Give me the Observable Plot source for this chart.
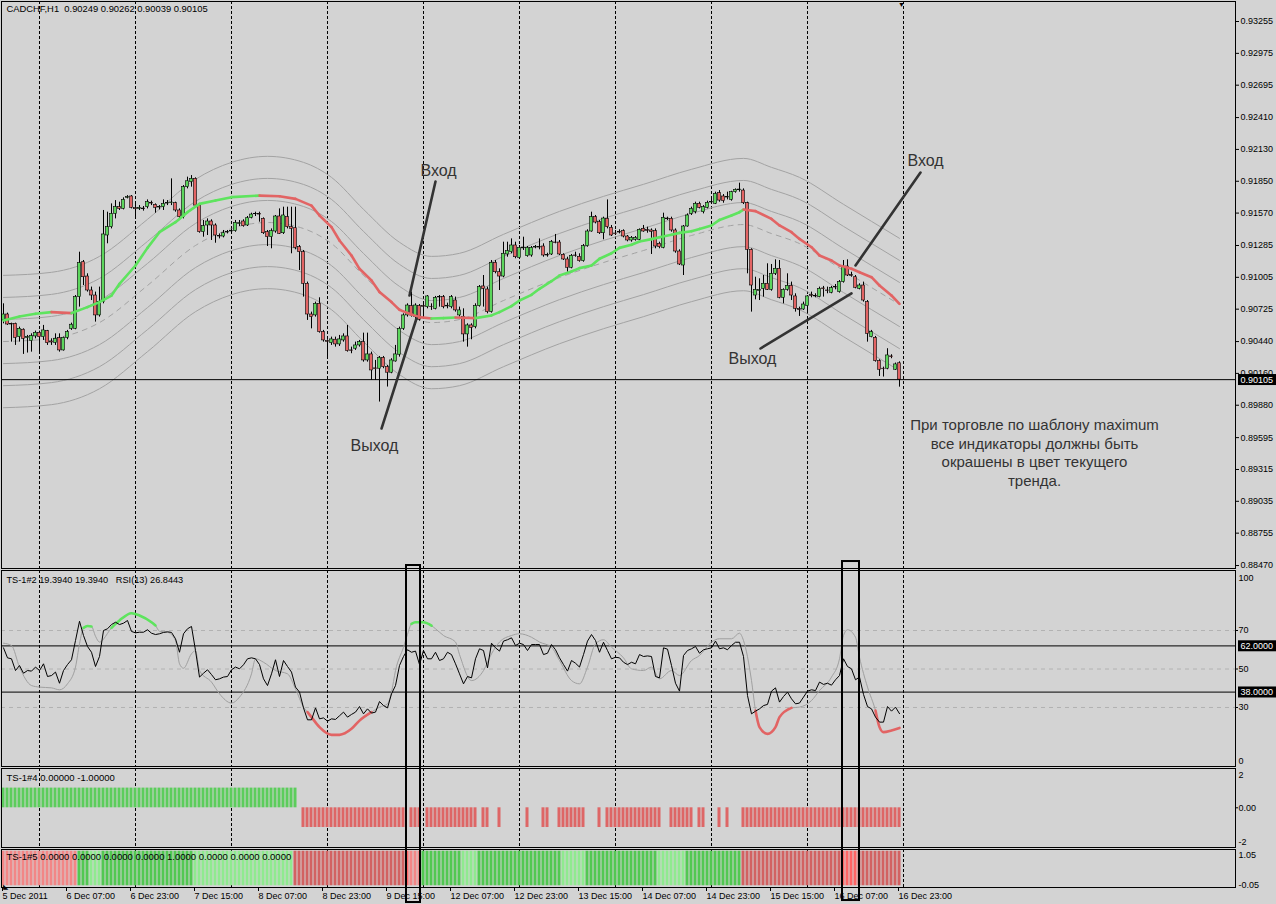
<!DOCTYPE html>
<html><head><meta charset="utf-8">
<script src="https://cdn.jsdelivr.net/npm/d3@7"></script>
<script src="https://cdn.jsdelivr.net/npm/@observablehq/plot@0.6"></script>
<style>
html,body{margin:0;padding:0;background:#d3d3d3;}
#chart{position:relative;width:1276px;height:904px;background:#d3d3d3;overflow:hidden;}
#chart svg{position:absolute;left:0;overflow:visible;}
</style></head><body><div id="chart"></div>
<script>
// ---------- DATA (CADCHF H1) ----------
const openP = [0.90626,0.90678,0.90596,0.90596,0.90479,0.90544,0.90470,0.90444,0.90485,0.90517,
0.90479,0.90532,0.90441,0.90429,0.90470,0.90362,0.90473,0.90552,0.90552,0.90831,
0.91138,0.91012,0.90889,0.90845,0.90670,0.90787,0.91373,0.91446,0.91563,0.91622,
0.91607,0.91704,0.91716,0.91613,0.91607,0.91610,0.91622,0.91660,0.91642,0.91619,
0.91622,0.91654,0.91657,0.91657,0.91593,0.91534,0.91798,0.91842,0.91871,0.91636,
0.91402,0.91461,0.91496,0.91461,0.91370,0.91364,0.91399,0.91408,0.91411,0.91475,
0.91496,0.91461,0.91528,0.91560,0.91563,0.91519,0.91402,0.91358,0.91408,0.91540,
0.91393,0.91534,0.91446,0.91437,0.91270,0.91226,0.90948,0.90678,0.90670,0.90772,
0.90523,0.90444,0.90426,0.90456,0.90415,0.90450,0.90485,0.90362,0.90377,0.90406,
0.90435,0.90274,0.90327,0.90204,0.90201,0.90297,0.90215,0.90166,0.90265,0.90324,
0.90552,0.90670,0.90752,0.90655,0.90752,0.90752,0.90743,0.90746,0.90728,0.90831,
0.90831,0.90755,0.90743,0.90801,0.90670,0.90655,0.90503,0.90582,0.90567,0.90752,
0.90925,0.90898,0.90699,0.91133,0.91050,0.91012,0.91206,0.91226,0.91285,0.91176,
0.91261,0.91191,0.91197,0.91267,0.91270,0.91276,0.91200,0.91206,0.91311,0.91311,
0.91203,0.91162,0.91089,0.91197,0.91185,0.91147,0.91279,0.91408,0.91534,0.91490,
0.91393,0.91519,0.91440,0.91390,0.91405,0.91411,0.91364,0.91329,0.91335,0.91335,
0.91431,0.91420,0.91417,0.91411,0.91300,0.91264,0.91522,0.91519,0.91417,0.91232,
0.91109,0.91452,0.91563,0.91578,0.91651,0.91578,0.91616,0.91663,0.91651,0.91745,
0.91716,0.91707,0.91686,0.91754,0.91771,0.91768,0.91657,0.91247,0.90845,0.90886,
0.90904,0.90948,0.90895,0.91036,0.91080,0.90825,0.90895,0.90930,0.90837,0.90725,
0.90722,0.90752,0.90848,0.90842,0.90831,0.90907,0.90889,0.90869,0.90919,0.90875,
0.90963,0.91100,0.91024,0.91006,0.90904,0.90933,0.90787,0.90479,0.90473,0.90268,
0.90201,0.90201,0.90309,0.90192,0.90249];
const highP = [0.90772,0.90690,0.90602,0.90602,0.90567,0.90552,0.90494,0.90508,0.90532,0.90532,
0.90582,0.90538,0.90464,0.90508,0.90508,0.90479,0.90538,0.90602,0.90845,0.91226,
0.91153,0.91036,0.90919,0.90875,0.90919,0.91593,0.91578,0.91651,0.91680,0.91666,
0.91704,0.91724,0.91724,0.91645,0.91636,0.91628,0.91686,0.91675,0.91651,0.91636,
0.91686,0.91680,0.91871,0.91666,0.91607,0.91812,0.91886,0.91900,0.91880,0.91651,
0.91505,0.91519,0.91511,0.91475,0.91387,0.91417,0.91417,0.91431,0.91505,0.91505,
0.91511,0.91540,0.91569,0.91578,0.91578,0.91528,0.91417,0.91431,0.91549,0.91607,
0.91622,0.91622,0.91622,0.91622,0.91285,0.91241,0.90963,0.90699,0.90787,0.90825,
0.90538,0.90456,0.90479,0.90479,0.90494,0.90508,0.90582,0.90391,0.90435,0.90450,
0.90514,0.90514,0.90347,0.90274,0.90309,0.90309,0.90230,0.90289,0.90406,0.90567,
0.90684,0.90772,0.90875,0.90772,0.90766,0.90772,0.90845,0.90772,0.90837,0.90845,
0.90845,0.90778,0.90845,0.90831,0.90743,0.90728,0.90596,0.90596,0.90772,0.90933,
0.91021,0.90919,0.91153,0.91153,0.91080,0.91314,0.91314,0.91343,0.91314,0.91285,
0.91358,0.91276,0.91276,0.91285,0.91343,0.91300,0.91217,0.91329,0.91382,0.91329,
0.91212,0.91182,0.91206,0.91226,0.91212,0.91294,0.91423,0.91578,0.91549,0.91505,
0.91534,0.91686,0.91461,0.91417,0.91423,0.91423,0.91373,0.91364,0.91364,0.91431,
0.91461,0.91446,0.91431,0.91431,0.91314,0.91569,0.91534,0.91534,0.91431,0.91247,
0.91461,0.91563,0.91622,0.91666,0.91666,0.91636,0.91675,0.91695,0.91754,0.91768,
0.91733,0.91754,0.91762,0.91783,0.91833,0.91783,0.91666,0.91256,0.91006,0.90992,
0.91021,0.91124,0.91118,0.91159,0.91153,0.90904,0.91036,0.90963,0.90860,0.90743,
0.90787,0.90845,0.90875,0.90860,0.90919,0.90925,0.90919,0.90925,0.90942,0.90977,
0.91153,0.91159,0.91050,0.91021,0.90948,0.90963,0.90801,0.90538,0.90485,0.90280,
0.90215,0.90377,0.90324,0.90251,0.90262];
const lowP = [0.90596,0.90582,0.90435,0.90406,0.90435,0.90327,0.90339,0.90347,0.90464,0.90333,
0.90450,0.90406,0.90406,0.90406,0.90347,0.90356,0.90456,0.90538,0.90544,0.90743,
0.90933,0.90875,0.90801,0.90611,0.90655,0.90772,0.91300,0.91431,0.91519,0.91593,
0.91598,0.91695,0.91607,0.91519,0.91593,0.91587,0.91607,0.91636,0.91569,0.91598,
0.91593,0.91636,0.91636,0.91578,0.91519,0.91519,0.91783,0.91798,0.91628,0.91393,
0.91358,0.91373,0.91329,0.91305,0.91343,0.91352,0.91387,0.91387,0.91402,0.91452,
0.91446,0.91452,0.91519,0.91540,0.91490,0.91382,0.91276,0.91256,0.91393,0.91382,
0.91382,0.91431,0.91212,0.91247,0.91065,0.90831,0.90626,0.90552,0.90655,0.90514,
0.90435,0.90303,0.90406,0.90391,0.90397,0.90435,0.90347,0.90333,0.90362,0.90391,
0.90259,0.90259,0.90098,0.90098,0.89908,0.90201,0.90040,0.90157,0.90259,0.90303,
0.90538,0.90655,0.90655,0.90582,0.90620,0.90655,0.90728,0.90714,0.90719,0.90743,
0.90728,0.90728,0.90728,0.90699,0.90655,0.90435,0.90391,0.90456,0.90552,0.90743,
0.90743,0.90684,0.90690,0.91036,0.90889,0.91001,0.91182,0.91212,0.91168,0.91168,
0.91241,0.91182,0.91182,0.91256,0.91247,0.91182,0.91182,0.91197,0.91300,0.91197,
0.91153,0.91050,0.91080,0.91182,0.91138,0.91138,0.91270,0.91402,0.91475,0.91382,
0.91335,0.91431,0.91364,0.91373,0.91387,0.91352,0.91317,0.91314,0.91323,0.91329,
0.91402,0.91393,0.91206,0.91256,0.91256,0.91256,0.91505,0.91402,0.91217,0.91109,
0.91021,0.91446,0.91549,0.91563,0.91607,0.91563,0.91607,0.91651,0.91645,0.91666,
0.91657,0.91686,0.91675,0.91745,0.91754,0.91645,0.91036,0.90699,0.90807,0.90801,
0.90831,0.90889,0.90883,0.91021,0.90816,0.90772,0.90883,0.90801,0.90699,0.90661,
0.90714,0.90684,0.90825,0.90825,0.90825,0.90831,0.90860,0.90860,0.90895,0.90866,
0.90954,0.91012,0.91006,0.90904,0.90895,0.90787,0.90435,0.90473,0.90259,0.90133,
0.90128,0.90192,0.90289,0.90186,0.90039];
const closeP = [0.90678,0.90590,0.90590,0.90473,0.90552,0.90464,0.90479,0.90488,0.90517,0.90479,
0.90538,0.90426,0.90432,0.90464,0.90362,0.90473,0.90523,0.90588,0.90831,0.91130,
0.91006,0.90889,0.90845,0.90670,0.90787,0.91382,0.91446,0.91563,0.91622,0.91607,
0.91686,0.91710,0.91616,0.91604,0.91616,0.91604,0.91666,0.91654,0.91616,0.91625,
0.91651,0.91660,0.91663,0.91593,0.91534,0.91798,0.91850,0.91871,0.91636,0.91402,
0.91455,0.91496,0.91461,0.91373,0.91364,0.91393,0.91402,0.91411,0.91484,0.91481,
0.91455,0.91525,0.91557,0.91563,0.91557,0.91393,0.91358,0.91411,0.91540,0.91387,
0.91549,0.91446,0.91431,0.91264,0.91226,0.90948,0.90678,0.90655,0.90772,0.90523,
0.90450,0.90438,0.90459,0.90415,0.90459,0.90485,0.90356,0.90359,0.90406,0.90435,
0.90274,0.90327,0.90186,0.90198,0.90297,0.90215,0.90166,0.90274,0.90327,0.90552,
0.90670,0.90757,0.90670,0.90757,0.90632,0.90746,0.90837,0.90743,0.90825,0.90828,
0.90743,0.90749,0.90831,0.90714,0.90714,0.90503,0.90582,0.90561,0.90752,0.90919,
0.90904,0.90699,0.91133,0.91050,0.91012,0.91212,0.91235,0.91285,0.91182,0.91264,
0.91267,0.91264,0.91264,0.91273,0.91267,0.91197,0.91197,0.91317,0.91308,0.91206,
0.91162,0.91089,0.91194,0.91194,0.91147,0.91279,0.91408,0.91534,0.91487,0.91393,
0.91522,0.91446,0.91373,0.91385,0.91399,0.91364,0.91329,0.91352,0.91352,0.91423,
0.91408,0.91414,0.91405,0.91276,0.91270,0.91528,0.91516,0.91417,0.91232,0.91118,
0.91452,0.91549,0.91607,0.91651,0.91616,0.91622,0.91660,0.91669,0.91739,0.91680,
0.91675,0.91713,0.91754,0.91774,0.91777,0.91657,0.91247,0.90933,0.90895,0.90892,
0.90948,0.90895,0.91036,0.91080,0.90825,0.90895,0.90930,0.90845,0.90728,0.90719,
0.90766,0.90837,0.90842,0.90837,0.90904,0.90901,0.90886,0.90910,0.90916,0.90963,
0.91100,0.91021,0.91018,0.90913,0.90933,0.90801,0.90508,0.90523,0.90268,0.90192,
0.90198,0.90318,0.90303,0.90239,0.90105];

// Trend moving average (thick, coloured by slope), sampled bars
const maBars = [0,4,8,12,17,21,24,27,29,33,36,39,43,46,49,53,57,64,69,73,77,79,82,84,87,89,92,94,97,99,102,104,107,110,113,115,118,122,124,127,129,132,134,137,139,142,144,147,149,152,154,157,159,162,164,167,169,172,174,177,179,182,184,185,188,192,194,197,199,202,204,207,209,212,214,217,219,222,224];
const maVals = [0.90626,0.90661,0.90684,0.90699,0.90690,0.90743,0.90787,0.90845,0.90948,0.91109,0.91264,0.91402,0.91490,0.91578,0.91651,0.91680,0.91710,0.91724,0.91718,0.91695,0.91636,0.91549,0.91446,0.91329,0.91197,0.91080,0.90977,0.90875,0.90787,0.90719,0.90678,0.90655,0.90643,0.90646,0.90652,0.90649,0.90646,0.90670,0.90699,0.90752,0.90801,0.90851,0.90904,0.90971,0.91021,0.91056,0.91086,0.91109,0.91168,0.91217,0.91264,0.91291,0.91320,0.91341,0.91358,0.91379,0.91396,0.91411,0.91431,0.91461,0.91510,0.91549,0.91578,0.91601,0.91587,0.91519,0.91461,0.91402,0.91343,0.91270,0.91197,0.91153,0.91109,0.91080,0.91050,0.91006,0.90933,0.90845,0.90772];
// Band centre line (dashed) and the band step
const centerBars = [0,12,24,36,48,57,66,75,82,90,99,107,114,125,139,150,160,172,185,192,199,210,224];
const centerVals = [0.90440,0.90467,0.90607,0.90933,0.91285,0.91434,0.91487,0.91434,0.91302,0.91021,0.90731,0.90607,0.90634,0.90801,0.91003,0.91135,0.91241,0.91373,0.91469,0.91390,0.91302,0.91065,0.90766];
const bandSteps = [1, 2, 3];
const bandWidth = 0.00194;

// RSI(13) per bar and the TS-1#2 signal line (sampled bars)
const rsiVals = [61.0,55.8,55.3,49.2,51.8,47.8,49.2,48.9,51.0,49.2,
52.7,46.1,46.6,48.4,42.6,49.2,52.3,54.8,64.8,74.8,
67.4,61.7,58.7,51.3,56.5,70.0,70.9,73.1,74.3,73.1,
73.8,75.2,69.5,68.8,69.1,69.1,70.4,68.6,67.9,68.3,
69.0,69.3,69.0,65.7,58.7,68.3,70.9,72.1,59.6,45.8,
47.8,49.6,47.1,44.4,44.9,45.8,46.1,49.6,51.0,50.1,
52.2,55.3,55.8,55.3,52.3,44.9,41.4,47.5,54.8,46.1,
54.4,51.3,48.4,40.6,38.0,29.8,23.6,23.6,29.8,24.1,
24.6,22.9,24.1,23.8,25.7,27.6,25.0,26.4,27.6,30.5,
26.7,29.3,27.1,27.6,33.1,31.0,29.8,37.1,41.4,51.8,
56.5,60.0,58.7,59.3,52.3,59.6,55.3,55.3,58.7,54.4,
55.3,58.7,57.5,52.7,47.5,42.3,46.1,45.4,55.3,60.5,
59.6,50.6,63.4,61.0,59.3,64.5,65.2,66.2,62.2,63.4,
62.7,59.6,62.7,62.7,62.7,57.5,58.2,62.7,60.0,55.8,
52.3,48.9,54.4,53.0,51.0,57.5,64.5,67.9,64.8,58.7,
63.9,59.6,55.3,56.1,55.8,53.5,52.3,53.5,52.7,57.5,
56.5,56.8,56.5,46.1,45.4,61.0,60.3,51.8,42.6,38.5,
57.0,59.6,60.5,61.7,58.2,60.0,60.5,61.0,64.5,60.5,
61.0,60.0,62.2,63.9,63.9,56.5,36.2,26.7,28.1,29.3,
31.0,31.6,38.5,40.2,32.8,35.7,38.0,34.5,31.9,32.3,
35.4,38.5,39.2,38.8,43.2,42.0,42.6,41.6,44.4,46.6,
55.3,51.3,50.1,44.4,45.8,36.8,30.5,29.3,25.0,22.4,
22.4,30.5,28.1,30.2,26.8];
const sigBars = [0,2,4,7,9,12,14,16,18,19,20,21,22,23,24,25,26,27,29,32,34,37,38,39,41,43,44,45,47,48,49,52,54,57,59,62,63,65,68,71,73,75,76,77,79,82,84,87,89,92,94,96,97,98,100,101,102,103,105,107,108,110,113,114,117,120,122,124,127,129,132,134,137,139,142,144,146,148,150,152,155,157,160,162,164,167,169,172,174,177,179,182,184,185,187,188,189,191,193,194,197,199,202,204,207,209,210,211,213,214,216,218,219,220,222,224];
const sigVals = [63.4,62.2,51.0,41.4,40.6,40.2,39.2,42.3,51.0,63.1,71.4,72.3,72.1,67.0,64.0,65.5,68.5,71.4,75.2,79.0,77.8,74.3,72.6,69.6,69.1,64.8,52.7,50.4,57.9,59.6,49.2,43.2,37.1,32.3,35.4,47.5,55.3,53.5,49.2,47.5,39.7,30.2,27.6,25.0,19.8,15.8,15.8,18.9,23.2,27.6,30.2,31.9,38.0,49.2,61.3,68.0,73.5,74.3,74.3,72.5,70.9,67.4,64.0,57.5,44.0,49.2,57.9,64.0,67.4,68.3,66.5,64.0,61.3,54.4,44.0,42.3,51.0,63.1,65.2,61.3,55.8,50.1,49.2,51.0,44.9,49.2,46.6,54.4,57.0,64.0,65.7,65.7,68.6,64.8,44.0,28.4,19.8,16.3,19.8,25.0,29.8,30.2,33.6,38.8,45.8,55.3,67.4,70.4,66.5,56.1,40.6,28.4,19.8,17.2,18.1,19.4];
const rsiLevels = [62, 38];
const rsiDashed = [70, 50, 30];
const sigHigh = 71, sigLow = 30;

// TS-1#4 histogram runs [firstBar, lastBar, value]
const ts4Runs = [[0,73,1],[75,100,-1],[102,104,-1],[106,118,-1],[120,121,-1],[124,124,-1],[131,131,-1],[135,136,-1],[139,145,-1],[149,149,-1],[151,164,-1],[167,172,-1],[174,175,-1],[179,179,-1],[181,181,-1],[185,224,-1]];
// TS-1#5 state runs [firstBar, lastBar, state]
const ts5Runs = [[0,18,"lc"],[19,21,"g"],[22,24,"lg"],[25,47,"g"],[48,72,"lg"],[73,100,"r"],[101,101,"br"],[102,104,"lc"],[105,114,"g"],[115,118,"lg"],[119,139,"g"],[140,145,"lg"],[146,163,"g"],[164,170,"lg"],[171,184,"g"],[185,209,"r"],[210,213,"br"],[214,224,"r"]];

const priceTicks = [0.93255,0.92975,0.92695,0.92410,0.92130,0.91850,0.91570,0.91285,0.91005,0.90725,0.90440,0.90160,0.89880,0.89595,0.89315,0.89035,0.88755,0.88470];
const dayGridBars = [9,33,57,81,105,129,153,177,201,225];
const timeLabelBars = [0,16,32,48,64,80,96,112,128,144,160,176,192,208,224];
const timeLabels = ["5 Dec 2011","6 Dec 07:00","6 Dec 23:00","7 Dec 15:00","8 Dec 07:00","8 Dec 23:00","9 Dec 15:00","12 Dec 07:00","12 Dec 23:00","13 Dec 15:00","14 Dec 07:00","14 Dec 23:00","15 Dec 15:00","16 Dec 07:00","16 Dec 23:00"];

// Annotations (bar, price)
const noteTexts = ["Вход","Выход","Вход","Выход"];
const noteBars = [108.75, 92.75, 230.5, 187.25];
const notePrices = [0.91944, 0.89525, 0.92032, 0.90291];
const arrowFromBar = [108, 94.5, 229.25, 189.25];
const arrowFromPrice = [0.91848, 0.89675, 0.91927, 0.90379];
const arrowToBar = [101.5, 103.25, 213, 212];
const arrowToPrice = [0.90845, 0.90643, 0.91109, 0.90863];
const commentText = "При торговле по шаблону maximum\nвсе индикаторы должны быть\nокрашены в цвет текущего\nтренда.";
const commentBar = 257.75, commentPrice = 0.89468;
const boxBarsFrom = [100.75, 209.75], boxBarsTo = [104.25, 214];
const boxTop = [0.375, 0.3794], boxBottom = [0.0022, 0.0044];

// ---------- DRAWING ----------
const W = 1276;
const FONT = "'Liberation Sans', Arial, Helvetica, sans-serif";
const GREEN = "#5cd65c", RED = "#e36464", MA_GREEN = "#5ee45e", MA_RED = "#e26464";
const TS_COL = {lc:"#f28686", g:"#52c852", lg:"#8fea8f", r:"#d26262", br:"#ff6565"};
const grid = () => Plot.ruleX(dayGridBars, {x: d => d, stroke: "black", strokeDasharray: "3,2", strokeWidth: 1});
const base = {
  width: W, marginLeft: 1, marginRight: 41,
  x: {domain: [-0.5, 308], axis: null},
  color: {type: "identity"},
  style: {background: "transparent", fontFamily: FONT, fontSize: "9px", color: "black", overflow: "visible"}
};
const chart = document.getElementById("chart");
function place(svg, top) { svg.style.top = top + "px"; chart.appendChild(svg); return svg; }
function addBoxes(svg) {
  svg.querySelectorAll('g[fill="white"] text').forEach(t => {
    const b = t.getBBox();
    const r = document.createElementNS("http://www.w3.org/2000/svg", "rect");
    r.setAttribute("x", b.x - 2.5); r.setAttribute("y", b.y - 0.5);
    r.setAttribute("width", b.width + 10); r.setAttribute("height", b.height + 1);
    r.setAttribute("fill", "black");
    if (t.getAttribute("transform")) r.setAttribute("transform", t.getAttribute("transform"));
    t.parentNode.insertBefore(r, t);
  });
}

const n = closeP.length;
const candles = d3.range(n).map(i => ({i, o: openP[i], h: highP[i], l: lowP[i], c: closeP[i]}));
const ma = maBars.map((b, k) => ({b, v: maVals[k]}));
const maSeg = ma.slice(1).map((d, k) => ({x1: ma[k].b, y1: ma[k].v, x2: d.b, y2: d.v, up: d.v >= ma[k].v}));
const center = centerBars.map((b, k) => ({b, v: centerVals[k]}));
const bands = [];
bandSteps.forEach(s => center.forEach(d => {
  bands.push({b: d.b, v: d.v + s * bandWidth, g: "u" + s});
  bands.push({b: d.b, v: d.v - s * bandWidth, g: "d" + s});
}));
const last = closeP[n - 1];
const notes = noteTexts.map((t, k) => ({t, b: noteBars[k], p: notePrices[k]}));
const arrows = arrowFromBar.map((b, k) => ({x1: b, y1: arrowFromPrice[k], x2: arrowToBar[k], y2: arrowToPrice[k]}));

const mainPlot = Plot.plot({
  ...base, height: 569, marginTop: 1, marginBottom: 1,
  y: {domain: [0.88444, 0.93431], axis: null},
  marks: [
    grid(),
    Plot.line(bands, {x: "b", y: "v", z: "g", stroke: "#a3a3a3", strokeWidth: 1, curve: "monotone-x"}),
    Plot.line(center, {x: "b", y: "v", stroke: "#a3a3a3", strokeWidth: 1, strokeDasharray: "5,5", curve: "monotone-x"}),
    Plot.ruleX(candles, {x: "i", y1: "l", y2: "h", stroke: "black", strokeWidth: 1}),
    Plot.rect(candles, {x1: d => d.i - 0.36, x2: d => d.i + 0.36, y1: "o", y2: "c", fill: d => d.c >= d.o ? GREEN : RED, stroke: "black", strokeWidth: 0.6}),
    Plot.link(maSeg, {x1: "x1", y1: "y1", x2: "x2", y2: "y2", stroke: d => d.up ? MA_GREEN : MA_RED, strokeWidth: 2.6, strokeLinecap: "round"}),
    Plot.ruleY([last], {stroke: "black", strokeWidth: 1}),
    Plot.link(arrows, {x1: "x1", y1: "y1", x2: "x2", y2: "y2", stroke: "#333", strokeWidth: 2.6, strokeLinecap: "round"}),
    Plot.text(notes, {x: "b", y: "p", text: "t", fontSize: 16, fill: "#333", fontFamily: FONT}),
    Plot.text([commentText], {x: () => commentBar, y: () => commentPrice, text: d => d, fontSize: 15, lineHeight: 1.23, fill: "#333", textAnchor: "middle", fontFamily: FONT}),
    Plot.axisY(priceTicks, {anchor: "right", tickSize: 3, tickPadding: 2, tickFormat: d => d.toFixed(5), fontSize: 9, label: null}),
    Plot.text([last], {y: d => d, frameAnchor: "right", dx: 5, textAnchor: "start", text: d => d.toFixed(5), fill: "white", fontSize: 9}),
    Plot.text(["CADCHF,H1\u00a0\u00a00.90249 0.90262 0.90039 0.90105"], {frameAnchor: "top-left", dx: 5, dy: 4, lineAnchor: "top", textAnchor: "start", text: d => d, fontSize: 9.4}),
    Plot.text([224.5], {x: d => d, frameAnchor: "top", dy: 1, lineAnchor: "top", text: () => "▼", fontSize: 7}),
    Plot.frame({stroke: "black"})
  ]
});
addBoxes(place(mainPlot, 0));

// RSI panel
const rsiData = rsiVals.map((v, i) => ({i, v}));
const sig = sigBars.map((b, k) => ({b, v: sigVals[k]}));
function runs(pred) { const out = []; let run = -1, prev = false; sig.forEach(d => { const p = pred(d.v); if (p) { if (!prev) run++; out.push({...d, run}); } prev = p; }); return out; }
const sigUp = runs(v => v > sigHigh), sigDn = runs(v => v < sigLow);
const rsiPlot = Plot.plot({
  ...base, height: 198, marginTop: 1, marginBottom: 1,
  y: {domain: [-0.65, 101.17], axis: null},
  marks: [
    grid(),
    Plot.ruleY(rsiDashed, {stroke: "#b2b2b2", strokeDasharray: "4,4"}),
    Plot.ruleY(rsiLevels, {stroke: "black"}),
    Plot.line(sig, {x: "b", y: "v", stroke: "#a0a0a0", strokeWidth: 1, curve: "monotone-x"}),
    Plot.line(sigUp, {x: "b", y: "v", z: "run", stroke: MA_GREEN, strokeWidth: 2.6, curve: "monotone-x"}),
    Plot.line(sigDn, {x: "b", y: "v", z: "run", stroke: MA_RED, strokeWidth: 2.6, curve: "monotone-x"}),
    Plot.line(rsiData, {x: "i", y: "v", stroke: "black", strokeWidth: 1}),
    Plot.axisY(rsiDashed, {anchor: "right", tickSize: 2, tickPadding: 1, fontSize: 9, label: null}),
    Plot.text(["100"], {frameAnchor: "top-right", dx: 3, dy: 4, lineAnchor: "top", textAnchor: "start", text: d => d, fontSize: 9}),
    Plot.text(["0"], {frameAnchor: "bottom-right", dx: 3, dy: -3, lineAnchor: "bottom", textAnchor: "start", text: d => d, fontSize: 9}),
    Plot.text(rsiLevels, {y: d => d, frameAnchor: "right", dx: 5, textAnchor: "start", text: d => d.toFixed(4), fill: "white", fontSize: 9}),
    Plot.text(["TS-1#2 19.3940 19.3940\u00a0\u00a0 RSI(13) 26.8443"], {frameAnchor: "top-left", dx: 5, dy: 6, lineAnchor: "top", textAnchor: "start", text: d => d, fontSize: 9.2}),
    Plot.frame({stroke: "black"})
  ]
});
addBoxes(place(rsiPlot, 569));

// TS-1#4 panel
const ts4 = []; ts4Runs.forEach(([a, b, v]) => { for (let i = a; i <= b; i++) ts4.push({i, v}); });
const ts4Plot = Plot.plot({
  ...base, height: 81, marginTop: 1, marginBottom: 1,
  y: {domain: [-2.015, 1.995], axis: null},
  marks: [
    grid(),
    Plot.rect(ts4, {x1: d => d.i - 0.375, x2: d => d.i + 0.375, y1: 0, y2: "v", fill: d => d.v > 0 ? "#5ccd5c" : "#de6666"}),
    Plot.axisY([0], {anchor: "right", tickSize: 2, tickPadding: 1, tickFormat: d => d.toFixed(2), fontSize: 9, label: null}),
    Plot.text(["2"], {frameAnchor: "top-right", dx: 3, dy: 3, lineAnchor: "top", textAnchor: "start", text: d => d, fontSize: 9}),
    Plot.text(["-2"], {frameAnchor: "bottom-right", dx: 3, dy: -3, lineAnchor: "bottom", textAnchor: "start", text: d => d, fontSize: 9}),
    Plot.text(["TS-1#4 0.00000 -1.00000"], {frameAnchor: "top-left", dx: 5, dy: 6, lineAnchor: "top", textAnchor: "start", text: d => d, fontSize: 9.5}),
    Plot.frame({stroke: "black"})
  ]
});
place(ts4Plot, 767);

// TS-1#5 panel + time axis
const ts5 = []; ts5Runs.forEach(([a, b, s]) => { for (let i = a; i <= b; i++) ts5.push({i, s}); });
const ts5Plot = Plot.plot({
  ...base, height: 56, marginTop: 1, marginBottom: 17,
  y: {domain: [-0.05, 1.05], axis: null},
  marks: [
    grid(),
    Plot.rect(ts5, {x1: d => d.i - 0.375, x2: d => d.i + 0.375, y1: 0, y2: 1, fill: d => TS_COL[d.s]}),
    Plot.text(["1.05"], {frameAnchor: "top-right", dx: 3, dy: 2, lineAnchor: "top", textAnchor: "start", text: d => d, fontSize: 9}),
    Plot.text(["-0.05"], {frameAnchor: "bottom-right", dx: 3, dy: 0, lineAnchor: "bottom", textAnchor: "start", text: d => d, fontSize: 9}),
    Plot.text(["TS-1#5 0.0000 0.0000 0.0000 0.0000 1.0000 0.0000 0.0000 0.0000"], {frameAnchor: "top-left", dx: 5, dy: 4, lineAnchor: "top", textAnchor: "start", text: d => d, fontSize: 9.5}),
    Plot.text(["◣"], {frameAnchor: "bottom-left", dx: 1, dy: 1, lineAnchor: "bottom", textAnchor: "start", text: d => d, fontSize: 7}),
    Plot.axisX(timeLabelBars, {anchor: "bottom", tickSize: 4, tickPadding: 1, textAnchor: "start", dx: -1, tickFormat: d => timeLabels[timeLabelBars.indexOf(d)], fontSize: 9, label: null}),
    Plot.frame({stroke: "black"})
  ]
});
place(ts5Plot, 848);

// overlay: highlighted boxes across sub-windows
const boxes = boxBarsFrom.map((b, k) => ({x1: b, x2: boxBarsTo[k], y1: boxBottom[k], y2: boxTop[k]}));
const overlay = Plot.plot({
  ...base, height: 904, marginTop: 0, marginBottom: 0,
  y: {domain: [0, 1], axis: null},
  marks: [
    Plot.rect(boxes, {x1: "x1", x2: "x2", y1: "y1", y2: "y2", fill: "none", stroke: "black", strokeWidth: 2})
  ]
});
overlay.style.pointerEvents = "none";
place(overlay, 0);
</script>
</body></html>
